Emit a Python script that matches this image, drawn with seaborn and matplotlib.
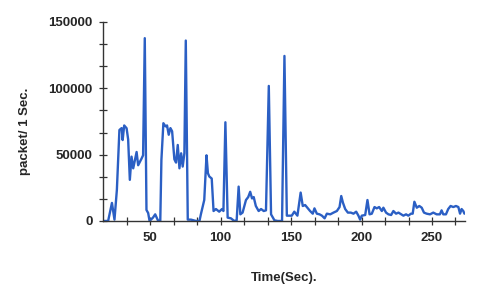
import matplotlib
matplotlib.use("Agg")
import matplotlib.pyplot as plt
from matplotlib.ticker import MultipleLocator
import seaborn as sns
import pandas as pd

# Time (sec) and packets per second
time_sec = [17, 20.2, 22.9, 24.7, 26.4, 28.2, 29.8, 30.5, 31.6, 33.3, 34.4, 35.6, 36.8,
            38.0, 39.2, 40.4, 41.5, 42.7, 43.9, 45.0, 46.2, 47.4, 48.6, 49.6, 52.0,
            53.6, 55.5, 57.2, 58.0, 59.4, 60.9, 62.0, 63.2, 64.4, 65.6, 67.2, 68.4,
            69.6, 70.8, 72.0, 73.1, 74.3, 75.3, 76.7, 79.0, 82.6, 85.0, 86.0, 88.4,
            90.0, 91.0, 92.0, 93.7, 95.0, 96.7, 99.0, 101.0, 102.0, 103.4, 105.0,
            107.3, 109.7, 111.4, 112.8, 114.0, 115.6, 118.0, 119.6, 121.0, 122.3,
            123.5, 125.0, 127.0, 128.7, 130.6, 132.2, 134.2, 135.8, 138.2, 140.5,
            143.6, 145.3, 147.0, 150.5, 152.3, 154.5, 156.8, 158.3, 160.0, 161.6,
            163.5, 165.4, 166.6, 168.3, 170.2, 171.9, 173.8, 175.4, 177.8, 180.1,
            182.5, 184.4, 185.6, 186.8, 188.4, 190.3, 192.4, 194.3, 196.2, 197.8,
            199.0, 200.2, 202.6, 204.2, 205.7, 207.3, 209.2, 210.8, 212.5, 214.4,
            215.5, 217.4, 219.1, 221.0, 222.6, 224.5, 226.2, 228.1, 229.7, 231.6,
            233.2, 235.1, 236.3, 237.5, 239.2, 241.0, 242.7, 244.3, 246.2, 248.6,
            250.9, 253.3, 255.6, 256.8, 258.0, 259.9, 261.5, 263.2, 265.1, 267.0,
            268.7, 269.9, 271.0, 272.2, 273.0]
packets = [0, 0, 13600, 1000, 23400, 68600, 70000, 61000, 72000, 69900, 61500, 31000,
           48500, 39700, 46000, 52000, 42000, 44500, 47000, 49500, 137800, 8300, 6000,
           0, 2500, 5000, 500, 0, 46000, 73700, 71300, 72000, 65000, 70000, 67600,
           46500, 44000, 57300, 39700, 51000, 41000, 51000, 136000, 1000, 1000, 0, 0,
           5000, 15800, 49500, 36000, 33500, 32000, 7500, 9000, 7000, 9000, 7500,
           74400, 2500, 2000, 0, 500, 25900, 5000, 6300, 15800, 18000, 22000, 17000,
           18000, 11300, 7500, 9000, 7500, 8000, 101800, 5000, 500, 0, 0, 124400,
           4000, 4000, 7000, 4000, 21400, 11300, 12000, 10000, 7500, 5500, 9500,
           5500, 5000, 4000, 2000, 5500, 5000, 6300, 7500, 10500, 18800, 13800, 9000,
           6300, 6300, 5500, 7000, 4000, 1000, 4000, 4500, 15800, 5000, 5500, 10500,
           9500, 10500, 7500, 10000, 6300, 5000, 4500, 7500, 5500, 6300, 5000, 4000,
           5000, 4000, 5500, 5500, 14500, 10000, 11300, 10000, 6300, 5500, 5000, 6300,
           5000, 5000, 8000, 5000, 5000, 9000, 11300, 10500, 11300, 10500, 5500, 9000,
           7500, 5500]

df = pd.DataFrame({"time": time_sec, "packets": packets})

sns.set_style("ticks")
plt.rcParams["font.family"] = ["Liberation Sans", "DejaVu Sans"]

fig = plt.figure(figsize=(4.8, 2.97), dpi=100)
ax = fig.add_axes([0.215, 0.256, 0.754, 0.670])

sns.lineplot(data=df, x="time", y="packets", ax=ax, color="#2b5fc4", linewidth=1.7)

ax.set_xlim(16.7, 273.5)
ax.set_ylim(0, 150000)
ax.xaxis.set_major_locator(MultipleLocator(50))
ax.xaxis.set_minor_locator(MultipleLocator(50 / 3))
ax.yaxis.set_major_locator(MultipleLocator(50000))
ax.yaxis.set_minor_locator(MultipleLocator(50000 / 3))
ax.tick_params(which="both", direction="inout", length=5.5, width=0.9, color="#333333",
               bottom=True, left=True, labelsize=9.5, pad=5)
for lbl in ax.get_xticklabels() + ax.get_yticklabels():
    lbl.set_fontweight("bold")

sns.despine(ax=ax)
for side in ["left", "bottom"]:
    ax.spines[side].set_color("#333333")
    ax.spines[side].set_linewidth(1)

ax.set_xlabel("Time(Sec).", fontsize=9.5, fontweight="bold", labelpad=20)
ax.set_ylabel("packet/ 1 Sec.", fontsize=9.5, fontweight="bold")
ax.yaxis.set_label_coords(-0.2, 0.45)

fig.savefig("out.png", dpi=100)
